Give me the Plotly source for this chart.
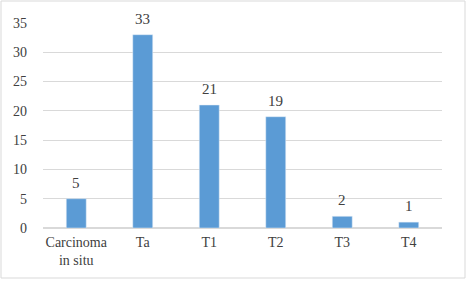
import plotly.graph_objects as go

categories = ["Carcinoma<br>in situ", "Ta", "T1", "T2", "T3", "T4"]
values = [5, 33, 21, 19, 2, 1]
y_ticks = [0, 5, 10, 15, 20, 25, 30, 35]

W, H = 469, 282
ml, mr, mt, mb = 43, 27, 23, 54
pw, ph = W - ml - mr, H - mt - mb
SERIF = "Liberation Serif"

fig = go.Figure(go.Bar(x=categories, y=values, marker_color="#5b9bd5"))

for c, v in zip(categories, values):
    fig.add_annotation(x=c, y=v, text=str(v), showarrow=False, yanchor="bottom",
                       yshift=6, font=dict(family=SERIF, size=15, color="#404040"))

def px_to_paper_x(p):
    return (p - ml) / pw

def px_to_paper_y(p):
    return (H - mb - p) / ph

fig.add_shape(type="rect", xref="paper", yref="paper",
              x0=px_to_paper_x(1), x1=px_to_paper_x(465),
              y0=px_to_paper_y(278), y1=px_to_paper_y(1),
              line=dict(color="#d9d9d9", width=1), layer="below")

fig.update_layout(
    width=W, height=H, margin=dict(l=ml, r=mr, t=mt, b=mb),
    paper_bgcolor="white", plot_bgcolor="white", bargap=0.7,
    showlegend=False,
    font=dict(family=SERIF, size=14, color="#404040"),
    xaxis=dict(showgrid=False, showline=False, ticks="",
               tickfont=dict(family=SERIF, size=14, color="#404040"),
               ticklabelstandoff=4),
    yaxis=dict(range=[0, 35], tickvals=y_ticks, showgrid=True, gridcolor="#d9d9d9",
               gridwidth=1, zeroline=True, zerolinecolor="#d9d9d9", ticks="",
               showline=False, tickfont=dict(family=SERIF, size=14, color="#404040"),
               ticklabelstandoff=15),
)

fig.write_html("out.html")
